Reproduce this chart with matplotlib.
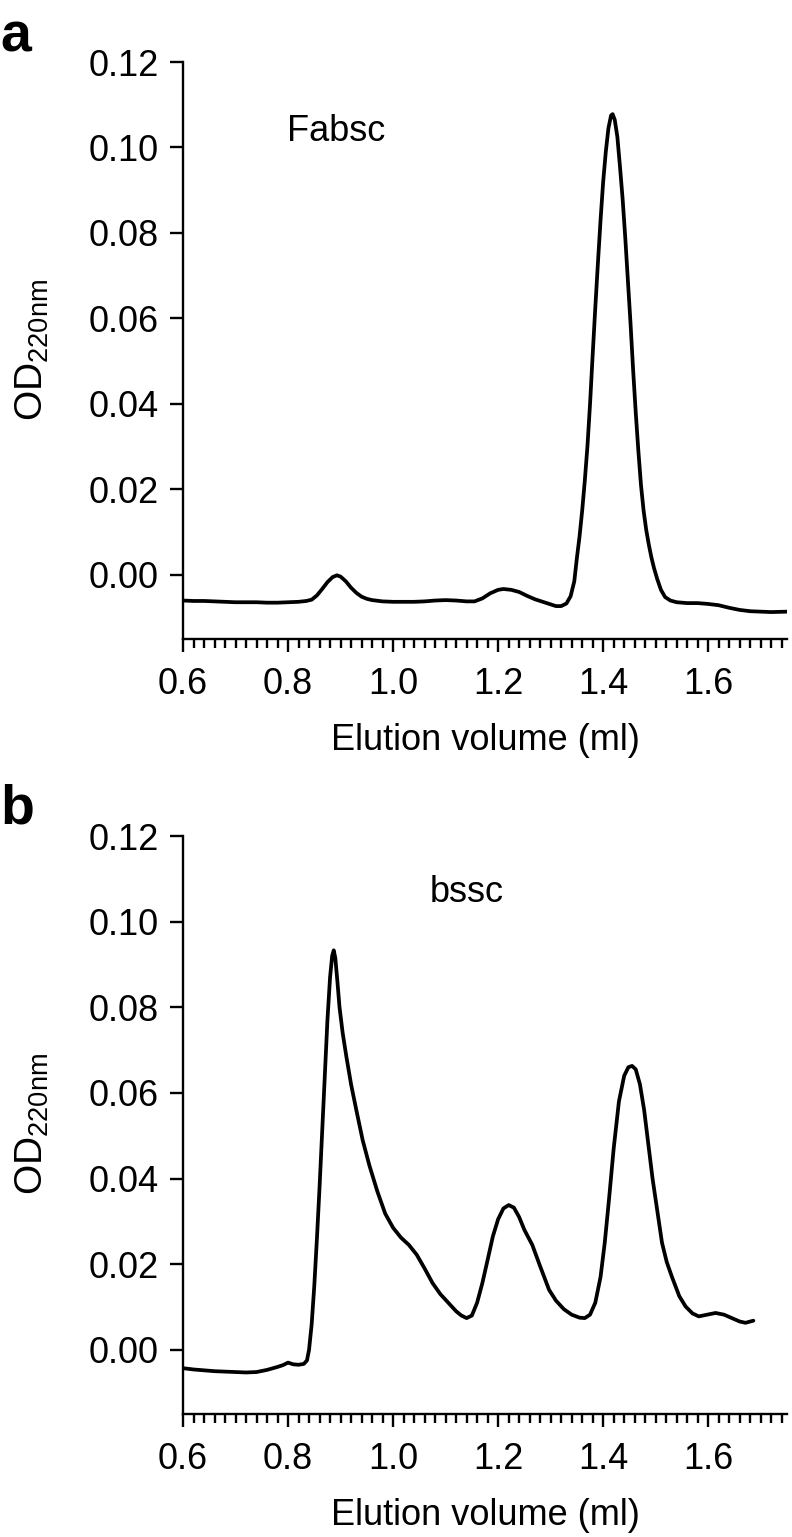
import matplotlib
matplotlib.use("Agg")
import matplotlib.pyplot as plt
from matplotlib.ticker import MultipleLocator, FormatStrFormatter

plt.rcParams['font.family'] = ['Liberation Sans', 'DejaVu Sans']
plt.rcParams['mathtext.fontset'] = 'custom'
plt.rcParams['mathtext.rm'] = 'Liberation Sans'
plt.rcParams['mathtext.it'] = 'Liberation Sans:italic'
plt.rcParams['mathtext.bf'] = 'Liberation Sans:bold'

# ---------------- data ----------------
fabsc_x = [0.60, 0.62, 0.64, 0.66, 0.68, 0.70, 0.72, 0.74, 0.76, 0.78, 0.80, 0.82,
           0.835, 0.845, 0.855, 0.865, 0.875, 0.885, 0.893, 0.900, 0.910, 0.920,
           0.930, 0.940, 0.950, 0.960, 0.98, 1.00, 1.02, 1.04, 1.06, 1.08, 1.10,
           1.12, 1.14, 1.155, 1.17, 1.185, 1.20, 1.21, 1.225, 1.24, 1.255, 1.27,
           1.285, 1.30, 1.31, 1.32, 1.33, 1.338, 1.345, 1.350, 1.355, 1.360, 1.365,
           1.370, 1.375, 1.380, 1.385, 1.390, 1.395, 1.400, 1.405, 1.410, 1.415,
           1.418, 1.422, 1.427, 1.432, 1.437, 1.442, 1.447, 1.452, 1.457, 1.462,
           1.467, 1.472, 1.477, 1.482, 1.487, 1.492, 1.497, 1.503, 1.510, 1.518,
           1.528, 1.54, 1.56, 1.58, 1.60, 1.62, 1.64, 1.66, 1.68, 1.70, 1.72, 1.75]
fabsc_y = [-0.0060, -0.0061, -0.0061, -0.0062, -0.0063, -0.0064, -0.0064, -0.0064,
           -0.0065, -0.0065, -0.0064, -0.0063, -0.0061, -0.0058, -0.0048, -0.0033,
           -0.0017, -0.0005, -0.0001, -0.0004, -0.0015, -0.0030, -0.0042, -0.0051,
           -0.0056, -0.0059, -0.0062, -0.0063, -0.0063, -0.0063, -0.0062, -0.0060,
           -0.0059, -0.0060, -0.0062, -0.0062, -0.0055, -0.0043, -0.0035, -0.0033,
           -0.0035, -0.0040, -0.0049, -0.0057, -0.0063, -0.0069, -0.0073, -0.0073,
           -0.0067, -0.0050, -0.0015, 0.0040, 0.0090, 0.0150, 0.0220, 0.0300,
           0.0400, 0.0515, 0.0625, 0.0730, 0.0830, 0.0920, 0.0990, 0.1045, 0.1075,
           0.1078, 0.1065, 0.1025, 0.0955, 0.0880, 0.0790, 0.0690, 0.0590, 0.0480,
           0.0380, 0.0290, 0.0210, 0.0150, 0.0105, 0.0070, 0.0040, 0.0015, -0.0010,
           -0.0035, -0.0052, -0.0060, -0.0064, -0.0066, -0.0066, -0.0068, -0.0071,
           -0.0077, -0.0082, -0.0085, -0.0086, -0.0087, -0.0086]

bssc_x = [0.60, 0.62, 0.64, 0.66, 0.68, 0.70, 0.72, 0.74, 0.76, 0.78, 0.79, 0.80,
          0.81, 0.82, 0.83, 0.836, 0.840, 0.845, 0.850, 0.855, 0.860, 0.865,
          0.870, 0.875, 0.880, 0.884, 0.887, 0.890, 0.894, 0.898, 0.904, 0.911,
          0.920, 0.930, 0.942, 0.955, 0.970, 0.985, 1.000, 1.015, 1.030, 1.045,
          1.060, 1.075, 1.090, 1.105, 1.120, 1.130, 1.140, 1.150, 1.160, 1.170,
          1.180, 1.190, 1.200, 1.210, 1.220, 1.230, 1.240, 1.250, 1.265, 1.280,
          1.297, 1.310, 1.325, 1.340, 1.355, 1.365, 1.375, 1.385, 1.395, 1.403,
          1.411, 1.420, 1.430, 1.440, 1.448, 1.455, 1.462, 1.470, 1.478, 1.486,
          1.494, 1.500, 1.506, 1.512, 1.521, 1.531, 1.545, 1.557, 1.570, 1.582,
          1.598, 1.614, 1.630, 1.645, 1.660, 1.671, 1.686]
bssc_y = [-0.0043, -0.0046, -0.0048, -0.0050, -0.0051, -0.0052, -0.0053, -0.0052,
          -0.0047, -0.0040, -0.0036, -0.0030, -0.0034, -0.0035, -0.0033, -0.0025,
          0.0000, 0.0060, 0.0150, 0.0260, 0.0380, 0.0510, 0.0640, 0.0770, 0.0870,
          0.0920, 0.0933, 0.0915, 0.0860, 0.0800, 0.0740, 0.0685, 0.0620, 0.0560,
          0.0490, 0.0430, 0.0370, 0.0318, 0.0285, 0.0262, 0.0245, 0.0222, 0.0190,
          0.0156, 0.0130, 0.0110, 0.0090, 0.0080, 0.0074, 0.0080, 0.0110, 0.0156,
          0.0210, 0.0265, 0.0305, 0.0330, 0.0338, 0.0332, 0.0310, 0.0280, 0.0245,
          0.0195, 0.0140, 0.0115, 0.0095, 0.0082, 0.0075, 0.0074, 0.0082, 0.0110,
          0.0170, 0.0250, 0.0350, 0.0470, 0.0580, 0.0640, 0.0660, 0.0663, 0.0655,
          0.0620, 0.0560, 0.0480, 0.0400, 0.0350, 0.0300, 0.0250, 0.0205, 0.0170,
          0.0125, 0.0101, 0.0085, 0.0078, 0.0082, 0.0086, 0.0082, 0.0074, 0.0066,
          0.0063, 0.0068]

panel_letters = ['a', 'b']
sample_names = ['Fabsc', 'bssc']
xlabel_text = 'Elution volume (ml)'
ylabel_text = r'OD$_{\mathrm{220nm}}$'
y_ticks = [0.00, 0.02, 0.04, 0.06, 0.08, 0.10, 0.12]
x_ticks = [0.6, 0.8, 1.0, 1.2, 1.4, 1.6]

# ---------------- figure ----------------
W, H = 792, 1537
fig = plt.figure(figsize=(W / 100, H / 100), dpi=100)

left = 183 / W
width = (787 - 183) / W
panels = [
    dict(bottom=1 - 639 / H, height=(639 - 62) / H, x=fabsc_x, y=fabsc_y,
         name_xy=(0.798, 0.1015), letter_y=1 - 52 / H, ylab_y=1 - 350 / H),
    dict(bottom=1 - 1414 / H, height=(1414 - 836) / H, x=bssc_x, y=bssc_y,
         name_xy=(1.07, 0.1046), letter_y=1 - 823 / H, ylab_y=1 - 1124 / H),
]

TICK_FS = 26
LABEL_FS = 26
YLABEL_FS = 28

for i, p in enumerate(panels):
    ax = fig.add_axes([left, p['bottom'], width, p['height']])
    ax.plot(p['x'], p['y'], color='black', lw=2.7, solid_joinstyle='round',
            solid_capstyle='round')
    ax.set_xlim(0.6, 1.75)
    ax.set_ylim(-0.015, 0.12)
    for s in ['top', 'right']:
        ax.spines[s].set_visible(False)
    for s in ['left', 'bottom']:
        ax.spines[s].set_linewidth(1.7)
    ax.set_yticks(y_ticks)
    ax.set_xticks(x_ticks)
    ax.xaxis.set_minor_locator(MultipleLocator(0.02))
    ax.yaxis.set_major_formatter(FormatStrFormatter('%.2f'))
    ax.xaxis.set_major_formatter(FormatStrFormatter('%.1f'))
    ax.tick_params(axis='both', which='major', direction='out', length=9.5,
                   width=1.7, labelsize=TICK_FS)
    ax.tick_params(axis='x', which='minor', direction='out', length=6.5, width=1.7)
    ax.tick_params(axis='y', which='major', pad=8)
    ax.tick_params(axis='x', which='major', pad=11)
    ax.set_xlabel(xlabel_text, fontsize=LABEL_FS)
    ax.xaxis.set_label_coords(0.5, -0.145)
    ax.text(p['name_xy'][0], p['name_xy'][1], sample_names[i], fontsize=TICK_FS,
            ha='left', va='baseline')
    fig.text(32 / W, p['ylab_y'], ylabel_text, rotation=90, fontsize=YLABEL_FS,
             ha='center', va='center')
    fig.text(0.0, p['letter_y'], panel_letters[i], fontsize=40, fontweight='bold',
             ha='left', va='baseline')

fig.savefig('out.png', dpi=100)
